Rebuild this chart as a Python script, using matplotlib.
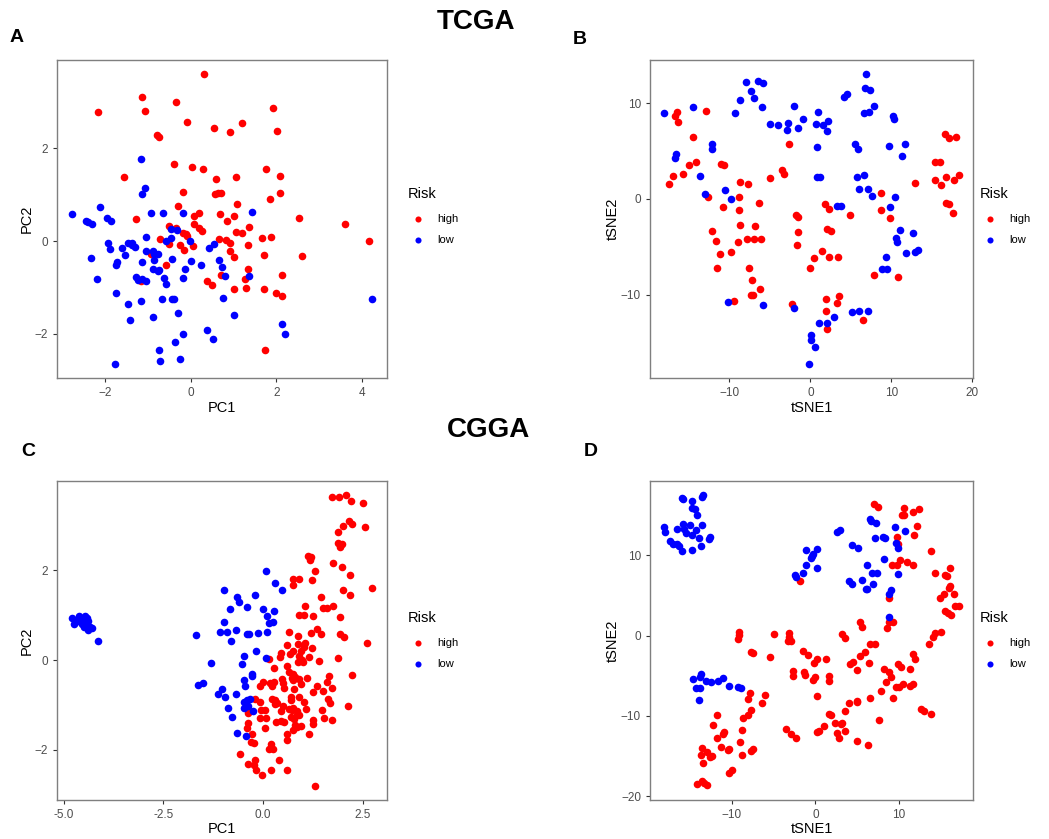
import matplotlib
matplotlib.use("Agg")
import matplotlib.pyplot as plt
from matplotlib.ticker import FormatStrFormatter

plt.rcParams['font.family'] = ['Liberation Sans', 'DejaVu Sans']

RED = '#ff0000'
BLUE = '#0000ff'

# ---- panel A: TCGA PCA ----
a_high_x = [0.31, -1.14, -0.34, -2.16, -1.06, 1.93, -0.09, 1.20, 0.54, 2.02, 0.91, -0.78, -0.73,
            -0.40, 0.02, 0.28, 1.75, -1.55, 1.06, 2.09, 0.58, 1.86, 2.08, -0.19, 0.57, 0.64, 0.71,
            -0.30, 1.09, 0.20, 0.08, 0.68, 1.02, 0.85, -1.28, 0.07, 2.53, 3.60, 1.37, -0.50, -0.35,
            0.19, 0.27, -0.19, -0.12, -0.08, 1.06, 1.19, -0.71, 0.65, 0.82, 1.66, 1.87, 4.15, -0.50,
            -0.26, 0.06, 0.92, 1.33, -0.15, 0.91, -0.92, 1.72, 2.59, 1.01, -0.58, 1.34, 0.71, 2.12,
            -1.16, 0.39, 1.27, 0.49, 1.02, 1.30, 1.71, 2.00, 2.14, 1.74]
a_high_y = [3.60, 3.12, 3.01, 2.79, 2.81, 2.87, 2.58, 2.54, 2.44, 2.37, 2.35, 2.29, 2.24,
            1.66, 1.60, 1.55, 1.55, 1.39, 1.38, 1.40, 1.34, 0.91, 1.04, 1.07, 1.02, 1.03, 1.04,
            0.76, 0.80, 0.61, 0.55, 0.59, 0.55, 0.43, 0.47, 0.38, 0.50, 0.37, 0.31, 0.32, 0.29,
            0.29, 0.21, 0.18, 0.16, 0.11, 0.19, 0.17, 0.04, 0.04, 0.02, 0.06, 0.08, 0.01, -0.07,
            -0.09, -0.11, -0.05, -0.09, -0.19, -0.21, -0.28, -0.29, -0.32, -0.35, -0.51, -0.60, -0.72, -0.73,
            -0.86, -0.86, -0.81, -0.94, -1.03, -1.02, -1.03, -1.12, -1.19, -2.35]
a_low_x = [-1.16, -1.06, -1.13, -2.12, -2.76, -0.93, -0.65, -0.19, 1.44, -2.45, -2.39, -2.29,
           -1.94, -1.85, -0.46, -0.32, -1.04, -0.58, -0.47, -0.01, -1.93, -1.89, -1.59, -1.47,
           -1.37, -1.36, -1.31, -1.52, -1.05, -0.89, -0.85, -0.76, 0.43, 0.55, -2.33, -1.72, -1.75,
           -1.13, -0.85, -0.43, 0.01, 0.65, -0.87, -0.77, -0.75, -0.13, 0.24, 0.73, -2.19, -1.28,
           -1.24, -1.14, -1.05, -0.62, -0.19, 0.79, 1.37, -0.57, -1.75, -1.16, -1.47, -0.66, -0.43,
           -0.40, 0.76, -0.30, -0.88, 1.01, -1.41, 2.12, 0.37, -0.19, 2.20, 0.52, -0.36, -0.75,
           -0.25, -0.71, -1.77, 4.22]
a_low_y = [1.78, 1.14, 1.01, 0.74, 0.58, 0.61, 0.60, 0.60, 0.64, 0.43, 0.42, 0.38,
           0.51, 0.44, 0.26, 0.25, 0.09, 0.00, 0.06, 0.00, -0.05, -0.17, -0.15, -0.04,
           -0.05, -0.09, -0.12, -0.29, -0.22, -0.22, -0.27, -0.28, -0.14, -0.07, -0.36, -0.44, -0.51,
           -0.44, -0.40, -0.38, -0.42, -0.40, -0.60, -0.64, -0.62, -0.61, -0.52, -0.56, -0.81, -0.78,
           -0.83, -0.81, -0.86, -0.79, -0.79, -0.76, -0.75, -0.93, -1.11, -1.29, -1.35, -1.24, -1.24,
           -1.24, -1.23, -1.55, -1.63, -1.60, -1.71, -1.78, -1.92, -2.00, -2.00, -2.12, -2.18, -2.35,
           -2.54, -2.58, -2.65, -1.25]

# ---- panel B: TCGA tSNE ----
b_high_x = [-16.77, -16.52, -16.36, -12.90, -14.54, -17.51, -16.93, -15.78, -14.96, -14.17, -12.69,
            -11.04, -10.67, -10.75, -12.15, -11.62, -11.21, -11.58, -9.85, -9.44, -8.69, -7.70, -8.82,
            -8.82, -8.69, -8.94, -7.87, -6.80, -6.92, -6.06, -6.35, -7.54, -7.17, -7.38, -7.13, -6.22,
            -5.03, -3.50, -3.21, -2.60, -1.73, -1.52, -1.52, -1.69, -2.31, -0.04, 0.49, 1.48, 1.81,
            2.31, 2.06, 2.51, 2.27, 3.42, 4.90, 1.98, 3.54, 3.30, 1.94, 2.02, 6.51, 7.83, 8.78, 8.74,
            9.81, 10.80, 12.90, 15.41, 16.07, 15.41, 16.19, 16.73, 17.80, 18.34, 16.65, 17.14, 18.05,
            16.81, 17.14, 17.68]
b_high_y = [8.68, 9.06, 8.02, 9.13, 6.42, 1.60, 2.40, 2.57, 3.54, 3.85, 0.17,
            3.68, 3.54, -0.83, -3.37, -4.38, -5.73, -7.22, -5.49, -10.66, 1.74, 1.53, 0.21,
            -1.15, -2.74, -4.44, -4.17, -2.81, -4.13, -4.20, -0.38, -7.19, -8.47, -10.03, -10.00, -9.34,
            2.22, 3.02, 2.64, 5.76, -1.63, -1.84, -3.47, -4.79, -10.97, -7.19, -6.15, -5.42, -0.56,
            -1.04, -3.13, -3.33, -6.04, -6.04, -1.70, -10.45, -10.14, -10.80, -11.67, -13.51, -12.60, -7.92, 0.59, -1.11,
            -2.01, -8.16, 1.70, 3.89, 3.82, 1.98, 1.49, 2.33, 1.98, 2.53, 6.77, 6.39, 6.49,
            -0.38, -0.52, -1.46]
b_low_x = [-18.05, -14.54, -16.56, -16.73, -12.20, -12.11, -13.68, -13.06, -10.51, -9.81, -7.95,
           -7.29, -6.96, -8.65, -6.47, -5.81, -9.27, -5.97, -5.03, -4.00, -2.72, -2.88, -2.02, -1.48,
           -0.95, 0.66, 0.95, 1.61, 2.14, 2.02, 0.87, 0.87, 1.15, 4.16, 4.49, 6.84, 6.76, 7.33, 6.59,
           7.29, 7.83, 5.56, 5.89, 5.77, 6.63, 6.06, 7.13, 7.58, 10.18, 10.38, 9.72, 11.66, 11.33,
           10.51, 9.81, 3.26, 3.79, 11.12, 12.73, 10.59, 10.75, 11.78, 12.98, 13.35, 9.31, 8.86, 9.44,
           -10.18, -5.81, -1.98, 1.03, 2.10, 2.97, 5.15, 6.02, 7.17, 0.12, 0.12, 0.54, -0.16]
b_low_y = [8.99, 9.55, 4.72, 4.27, 5.69, 5.21, 2.43, 0.52, 0.90, 0.00, 12.22,
           11.28, 10.49, 10.35, 12.26, 12.08, 8.96, 9.62, 7.81, 7.71, 7.88, 7.15, 9.65, 7.36,
           8.33, 7.78, 9.10, 7.71, 8.13, 7.12, 5.38, 2.26, 2.29, 10.66, 10.90, 13.02, 11.53, 11.32, 8.96,
           9.10, 9.69, 5.73, 5.17, 2.33, 2.53, 1.01, 1.01, 0.31, 8.68, 8.33, 5.52, 5.69, 4.48,
           0.24, -0.83, -0.69, -0.69, -3.26, -3.58, -4.10, -4.51, -5.59, -5.56, -5.35, -6.04, -7.29, -7.26,
           -10.73, -11.04, -11.39, -12.88, -12.95, -12.33, -11.77, -11.63, -11.63, -14.17, -14.72, -15.45, -17.19]

# ---- panel C: CGGA PCA ----
c_high_x = [1.72, 1.91, 2.08, 2.21, 2.50, 2.16, 2.23, 2.55, 2.00, 1.88, 1.87, 1.93, 1.98, 1.92,
            1.13, 1.19, 1.18, 1.76, 1.98, 1.31, 2.18, 0.74, 0.90, 0.76, 1.22, 2.74, 2.00, 2.18, 1.46,
            1.04, 1.50, 1.60, 1.75, 0.89, 1.03, 1.24, 1.92, 1.34,
            0.66, 0.87, 1.19, 1.46, 1.92, 2.04, 2.61, 0.59, 0.88, 1.05, 1.02, 1.22, 0.76, 0.68,
            0.46, 0.43, 0.94, 0.91, 1.15, 0.98, 0.88, 1.00, 1.39, 1.89, 0.16, 0.59, 0.28, 0.64,
            0.74, 0.79, 0.72, 0.76, 0.89, 1.11, 1.65, 2.24, -0.01, -0.08, 0.18, 0.28, 0.23, 0.47,
            0.51, 0.94, 0.53, 0.78, 1.36, 1.24, 1.61, 1.51, 1.73, -0.19, -0.07, 0.23, 0.29, 0.35,
            0.31, 0.69, 0.69, 0.91, 1.02, 1.64, 1.68, 0.49, 0.76, 0.72, 1.08, 2.12, -0.04, 0.04,
            0.44, 0.65, 0.85, 0.90, 0.84, 1.48, -0.37, -0.37, -0.08, 0.07, 0.70, 0.78, 0.33, 0.44,
            0.53, 1.24, 1.25, 1.53, 1.73, 0.80, 0.95, 0.85, 0.75, -0.38, -0.41, 0.05, 0.61, 1.15,
            -0.28, 0.59, -0.31, -0.22, 0.19, 0.16, 0.24, -0.59, -0.19, -0.23, -0.18, -0.38, 0.41,
            0.20, 0.60, -0.02, 1.31]
c_high_y = [3.64, 3.63, 3.67, 3.55, 3.49, 3.10, 3.03, 2.96, 2.99, 2.86, 2.60, 2.57, 2.59, 2.53,
            2.32, 2.29, 2.22, 2.17, 2.07, 1.99, 1.90, 1.81, 1.81, 1.67, 1.78, 1.60, 1.57, 1.46, 1.40,
            1.20, 1.16, 1.15, 1.21, 1.00, 1.00, 0.97, 0.95, 0.69,
            0.62, 0.54, 0.60, 0.58, 0.58, 0.51, 0.37, 0.34, 0.35, 0.37, 0.28, 0.27, 0.19, 0.13,
            0.15, 0.06, 0.19, 0.10, 0.06, -0.01, -0.04, -0.05, -0.02, 0.04, 0.03, -0.13, -0.18, -0.26,
            -0.31, -0.37, -0.41, -0.45, -0.43, -0.41, -0.36, -0.33, -0.48, -0.57, -0.52, -0.48, -0.57, -0.42,
            -0.52, -0.54, -0.62, -0.64, -0.57, -0.71, -0.49, -0.69, -0.63, -0.86, -0.93, -0.86, -0.89, -0.95,
            -0.97, -0.83, -0.89, -0.83, -0.94, -0.87, -0.96, -1.03, -1.06, -1.12, -1.09, -1.03, -1.12, -1.12,
            -1.14, -1.10, -1.13, -1.23, -1.23, -1.12, -1.12, -1.19, -1.29, -1.30, -1.26, -1.31, -1.38, -1.36,
            -1.38, -1.34, -1.43, -1.29, -1.33, -1.45, -1.46, -1.50, -1.56, -1.41, -1.52, -1.51, -1.66, -1.65,
            -1.64, -1.78, -1.83, -1.84, -1.87, -1.98, -1.99, -2.10, -2.23, -2.35, -2.45, -2.32, -2.23,
            -2.46, -2.45, -2.57, -2.80]
c_low_x = [-4.80, -4.74, -4.68, -4.61, -4.56, -4.51, -4.46, -4.41, -4.38, -4.64, -4.54, -4.44,
           -4.39, -4.33, -4.29, -4.48, -4.13,
           0.07, 0.30, 0.47, -0.97, -0.65, -0.20, -0.61, -0.84, -0.40, -0.01, 0.27, 0.09, -0.99,
           0.15, 0.26, -0.68, -1.08, -0.90, -0.40, -0.35, -0.13, 0.09, -0.80, -1.67, -0.17, -0.47,
           0.08, -1.31, -0.54, -0.27, -0.27, -0.47, -0.45, -1.64, -1.51, -1.02, -1.12, -0.95, -0.68,
           -0.47, -0.40, -0.34, -0.88, -0.49, -0.38, -0.26, -0.79, -0.65, -0.43]
c_low_y = [0.93, 0.80, 0.89, 0.97, 0.91, 0.85, 0.98, 0.93, 0.86, 0.86, 0.80, 0.76,
           0.68, 0.74, 0.71, 0.74, 0.42,
           1.99, 1.72, 1.56, 1.56, 1.40, 1.45, 1.29, 1.14, 1.18, 1.13, 1.09, 0.99, 0.84,
           0.82, 0.85, 0.67, 0.63, 0.62, 0.58, 0.58, 0.60, 0.62, 0.43, 0.55, 0.19, 0.10,
           0.05, -0.06, -0.09, -0.32, -0.36, -0.45, -0.58, -0.56, -0.52, -0.64, -0.76, -0.82, -0.75,
           -0.93, -0.89, -0.88, -1.06, -1.06, -1.03, -1.13, -1.27, -1.62, -1.69]

# ---- panel D: CGGA tSNE ----
d_high_x = [7.05, 7.45, 10.56, 10.36, 10.56, 11.63, 12.43, 12.15, 11.75, 9.76, 9.84, 10.16, 9.20,
            9.76, 10.96, 11.71, 13.86, -1.79, 8.80, 8.84, 9.32, 8.52, 5.30, 5.58, -4.98, -3.15,
            -3.11, -3.23, -2.95, 3.19, 3.59, 14.34, 16.10, 15.50, 15.78, 16.06, 16.02, 15.38, 14.86,
            16.53, 16.73, 17.17, 15.50, 15.90, 16.22, 15.02, 14.26, 14.02, 13.63,
            -9.12, -9.16, -9.24, -7.69, -7.45, -5.42, -7.77, -8.09, -6.02, -6.41, -7.65, -8.01, -8.69,
            -11.79, -12.19, -8.73, -10.88, -11.08, -11.79, -9.00, -11.27, -10.28, -10.48, -13.51,
            -12.99, -12.39, -12.55, -13.71, -13.39, -8.80, -7.73, -7.45, -9.92, -10.28, -14.18,
            -13.59, -13.27, -12.99,
            -1.51, -0.92, -0.12, 0.16, 1.31, -2.71, -2.71, -1.39, -1.20, -0.24, 0.00, 1.67, 1.59,
            0.20, -3.51, -2.91, -2.27, 0.20, 0.40, 1.00, 1.67, 1.87, 2.35, 3.03, 3.15, 2.59, 2.79,
            3.55, 4.98, 6.29, 3.59, 4.02, 4.94, 4.98, 6.53, 7.61, 4.14, 4.54, 5.02, 5.30, 5.90, 6.37,
            6.49, 7.17, 8.25, 8.80, 9.00, 8.49, 7.85, 9.28, 9.92, 10.28, 9.60, 10.04, 10.44, 11.35,
            11.35, 11.63, 11.67, 11.95, 12.59, 12.99, 13.86]
d_high_y = [16.39, 16.06, 15.89, 15.02, 15.02, 15.39, 15.81, 13.69, 12.49, 12.24, 11.41, 9.38, 8.80,
            8.76, 9.21, 8.80, 10.54, 6.76, 4.69, 1.66, 1.74, 0.95, 1.66, 1.12, 0.17, 0.37,
            -0.12, -0.62, -0.71, 0.21, -0.33, 7.84, 8.46, 7.51, 7.47, 6.18, 5.93, 5.15, 4.73,
            5.15, 3.69, 3.69, 3.07, 2.86, 2.61, 0.50, 0.33, -0.17, -1.00,
            0.50, 0.04, -0.41, -2.03, -2.12, -2.61, -7.10, -7.93, -7.39, -8.42, -9.25, -9.88, -10.21,
            -9.83, -11.08, -11.74, -11.95, -12.24, -12.78, -13.24, -13.82, -14.11, -14.27, -13.98,
            -14.48, -14.94, -15.06, -14.90, -15.81, -14.85, -14.36, -14.15, -16.72, -17.05, -18.46,
            -18.13, -18.38, -18.59,
            -1.95, -2.41, -3.40, -2.90, -2.86, -4.40, -5.06, -4.56, -4.90, -5.52, -5.10, -5.06, -5.64,
            -7.55, -11.62, -12.20, -12.78, -11.99, -11.87, -11.24, -9.79, -9.92, -10.91, -11.00, -10.91, -12.12, -12.70,
            -11.91, -13.07, -13.65, -9.34, -8.42, -8.13, -8.30, -7.80, -10.50, -3.53, -3.28, -4.27, -2.57, -2.03, -3.44,
            -1.08, -1.08, -4.11, -4.52, -5.15, -5.81, -6.89, -7.76, -3.57, -3.86, -6.43, -6.35, -6.02, -4.11,
            -6.27, -6.06, -2.28, -2.86, -9.13, -9.34, -9.75]
d_low_x = [-15.98, -15.86, -14.70, -13.59, -13.43, -14.78, -14.38, -14.18, -18.09, -17.97, -16.49,
           -15.86, -15.66, -15.46, -14.94, -14.26, -14.70, -13.55, -13.86, -12.71, -12.63, -17.37,
           -16.97, -16.49, -16.25, -15.98, -14.74, -13.71,
           -1.12, 0.16, -0.24, -0.40, -0.56, -1.12, 0.16, -1.43, -2.43, -2.35, 2.63, 2.95, 4.42, 5.06,
           6.53, 6.61, 7.25, 7.17, 8.05, 8.37, 9.48, 10.68, 9.60, 9.88, 8.17, 6.14, 6.77, 7.33, 3.98,
           4.34, 5.58, 6.93, 6.06, 6.22, 9.00, 8.76, 9.88, 8.76,
           -14.66, -14.30, -13.75, -13.78, -13.63, -13.07, -12.43, -11.59, -11.08, -10.32, -9.28,
           -8.88, -13.94]
d_low_y = [17.10, 17.05, 16.80, 17.30, 17.47, 15.85, 15.73, 15.06, 13.53, 12.86, 13.28,
           13.86, 13.28, 12.82, 13.82, 13.20, 12.57, 13.82, 12.12, 12.07, 12.24, 11.83,
           11.45, 11.37, 11.20, 10.58, 10.66, 11.12,
           10.71, 10.79, 10.21, 9.92, 9.63, 8.84, 8.46, 7.76, 7.51, 7.26, 12.95, 13.11, 11.33, 10.87,
           14.48, 14.23, 14.07, 12.12, 12.32, 12.12, 13.57, 13.07, 11.49, 10.91, 9.54, 8.80, 7.84, 7.76, 6.76,
           6.39, 6.93, 6.43, 5.77, 5.85, 5.64, 5.19, 7.72, 2.37,
           -5.35, -6.56, -6.51, -5.10, -4.81, -5.60, -5.81, -5.64, -5.23, -6.31, -6.35,
           -6.51, -8.01]

W, H = 1049, 839
fig = plt.figure(figsize=(W / 100, H / 100), dpi=100)


def px_axes(x0, y0, x1, y1):
    return fig.add_axes([x0 / W, 1 - y1 / H, (x1 - x0) / W, (y1 - y0) / H])


def panel(ax, hx, hy, lx, ly, xlab, ylab, xlim, ylim, xt, yt, leg_xy, fmt=None):
    ax.scatter(hx, hy, s=30, c=RED, linewidths=0, label='high', zorder=3)
    ax.scatter(lx, ly, s=30, c=BLUE, linewidths=0, label='low', zorder=3)
    ax.set_xlim(*xlim)
    ax.set_ylim(*ylim)
    ax.set_xticks(xt)
    ax.set_yticks(yt)
    if fmt:
        ax.xaxis.set_major_formatter(FormatStrFormatter(fmt))
    for s in ax.spines.values():
        s.set_color('#7f7f7f')
        s.set_linewidth(1.0)
    ax.tick_params(colors='#333333', labelcolor='#4d4d4d', labelsize=8.5, length=3, width=0.8)
    ax.set_xlabel(xlab, fontsize=10.5, labelpad=1)
    ax.set_ylabel(ylab, fontsize=10.5, labelpad=1)
    # legend placed in figure pixels (left edge of title, vertical centre)
    leg = ax.legend(title='Risk', loc='center left',
                    bbox_to_anchor=(leg_xy[0] / W, 1 - leg_xy[1] / H),
                    bbox_transform=fig.transFigure, frameon=False,
                    fontsize=8, title_fontsize=10.5, handlelength=1.8, handletextpad=0.8,
                    markerscale=0.8, labelspacing=1.0, borderaxespad=0, borderpad=0)
    leg._legend_box.align = 'left'
    leg._legend_box.sep = 9


axA = px_axes(57.3, 60, 386.7, 378.3)
panel(axA, a_high_x, a_high_y, a_low_x, a_low_y, 'PC1', 'PC2',
      (-3.11, 4.57), (-2.96, 3.91), [-2, 0, 2, 4], [-2, 0, 2], (408, 216))
axB = px_axes(650, 60, 973.3, 378.3)
panel(axB, b_high_x, b_high_y, b_low_x, b_low_y, 'tSNE1', 'tSNE2',
      (-19.82, 20.15), (-18.68, 14.48), [-10, 0, 10, 20], [-10, 0, 10], (980, 216))
axC = px_axes(57.3, 481, 386.7, 800)
panel(axC, c_high_x, c_high_y, c_low_x, c_low_y, 'PC1', 'PC2',
      (-5.16, 3.10), (-3.12, 3.99), [-5.0, -2.5, 0.0, 2.5], [-2, 0, 2], (408, 640), fmt='%.1f')
axD = px_axes(650, 481, 973.3, 800)
panel(axD, d_high_x, d_high_y, d_low_x, d_low_y, 'tSNE1', 'tSNE2',
      (-19.76, 18.88), (-20.46, 19.25), [-10, 0, 10], [-20, -10, 0, 10], (980, 640))

fig.text(476 / W, 1 - 22 / H, 'TCGA', fontsize=20, fontweight='bold', ha='center', va='center')
fig.text(489 / W, 1 - 430 / H, 'CGGA', fontsize=20, fontweight='bold', ha='center', va='center')
for lab, x, y in [('A', 17, 38), ('B', 580, 40), ('C', 28, 452), ('D', 591, 452)]:
    fig.text(x / W, 1 - y / H, lab, fontsize=14, fontweight='bold', ha='center', va='center')

fig.savefig('out.png', dpi=100)
